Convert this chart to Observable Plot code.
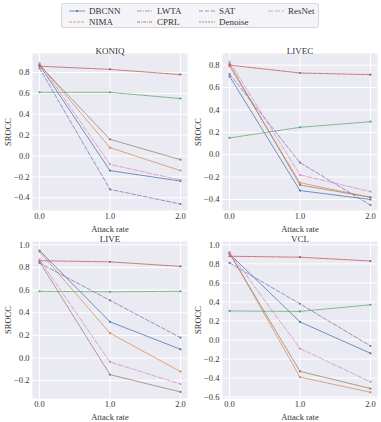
<!DOCTYPE html>
<html>
<head>
<meta charset="utf-8">
<script src="https://cdn.jsdelivr.net/npm/d3@7"></script>
<script src="https://cdn.jsdelivr.net/npm/@observablehq/plot@0.6"></script>
<style>
  html, body { margin: 0; padding: 0; background: #fff; }
  #root { position: relative; width: 381px; height: 422px; font-family: "Liberation Serif", "DejaVu Serif", serif; font-weight: normal; color: #333; }
  .panel { position: absolute; }
  .panel svg text { font-family: "Liberation Serif", "DejaVu Serif", serif; font-weight: normal; }
  #legend { position: absolute; left: 61px; top: 3px; width: 258px; height: 25px; border: 1px solid #d8d8d8; border-radius: 2px; background: #f4f4f8; box-sizing: border-box; }
  .lg { position: absolute; font-size: 9px; line-height: 10px; white-space: nowrap; font-weight: normal; }
  .lg svg { position: absolute; }
</style>
</head>
<body>
<div id="root"><div id="legend"></div></div>
<script>
// ---- data ----
const rates = [0, 1, 2];
const methods = ["DBCNN", "NIMA", "LWTA", "CPRL", "SAT", "Denoise", "ResNet"];
const colors = ["#4C72B0", "#DD8452", "#55A868", "#C44E52", "#8172B3", "#937860", "#DA8BC3"];
const dashes = ["none", "3,1", "5,1,1,1", "3,1,1,1", "4,2", "2,1", "5,2"];

// values per method (order of `methods`) at rates 0, 1, 2
const koniqValues = [
  [0.87, -0.14, -0.24],
  [0.88, 0.08, -0.14],
  [0.61, 0.61, 0.55],
  [0.86, 0.83, 0.78],
  [0.84, -0.32, -0.46],
  [0.87, 0.16, -0.035],
  [0.89, -0.08, -0.23]
];
const livecValues = [
  [0.70, -0.32, -0.40],
  [0.79, -0.25, -0.38],
  [0.15, 0.245, 0.295],
  [0.80, 0.73, 0.715],
  [0.72, -0.07, -0.45],
  [0.81, -0.27, -0.38],
  [0.83, -0.18, -0.33]
];
const liveValues = [
  [0.95, 0.32, 0.077],
  [0.94, 0.22, -0.12],
  [0.59, 0.585, 0.59],
  [0.86, 0.85, 0.81],
  [0.84, 0.51, 0.18],
  [0.85, -0.147, -0.30],
  [0.87, -0.035, -0.23]
];
const vclValues = [
  [0.905, 0.19, -0.14],
  [0.92, -0.39, -0.55],
  [0.305, 0.30, 0.37],
  [0.88, 0.87, 0.83],
  [0.81, 0.38, -0.063],
  [0.91, -0.33, -0.51],
  [0.92, -0.09, -0.44]
];

const xTicks = [0, 1, 2];
const koniqTicks = [-0.4, -0.2, 0, 0.2, 0.4, 0.6, 0.8];
const livecTicks = [-0.4, -0.2, 0, 0.2, 0.4, 0.6, 0.8];
const liveTicks = [-0.2, 0, 0.2, 0.4, 0.6, 0.8, 1.0];
const vclTicks = [-0.6, -0.4, -0.2, 0, 0.2, 0.4, 0.6, 0.8, 1.0];

const panels = [
  {title: "KONIQ", values: koniqValues, ticks: koniqTicks, domain: [-0.522, 0.982], left: 0, top: 38},
  {title: "LIVEC", values: livecValues, ticks: livecTicks, domain: [-0.498, 0.904], left: 190, top: 38},
  {title: "LIVE", values: liveValues, ticks: liveTicks, domain: [-0.358, 1.03], left: 0, top: 226},
  {title: "VCL", values: vclValues, ticks: vclTicks, domain: [-0.615, 1.035], left: 190, top: 226}
];

const root = document.getElementById("root");
const fmt = d3.format(".1f");
const FONT = "'Liberation Serif', 'DejaVu Serif', serif";

for (const p of panels) {
  const marks = [
    Plot.frame({fill: "#EAEAF2", stroke: "none"}),
    Plot.gridX(xTicks, {stroke: "#fff", strokeOpacity: 1, strokeWidth: 1}),
    Plot.gridY(p.ticks, {stroke: "#fff", strokeOpacity: 1, strokeWidth: 1}),
    Plot.axisX(xTicks, {tickSize: 0, tickPadding: 2, tickFormat: fmt, fontSize: 8.5, fill: "#333", label: "Attack rate", labelAnchor: "center", labelArrow: "none", labelOffset: 21}),
    Plot.axisY(p.ticks, {tickSize: 0, tickPadding: 3, tickFormat: fmt, fontSize: 8.5, fill: "#333", label: "SROCC", labelAnchor: "center", labelArrow: "none", labelOffset: 28})
  ];
  methods.forEach((m, i) => {
    const data = rates.map((r, j) => ({rate: r, value: p.values[i][j]}));
    marks.push(Plot.line(data, {x: "rate", y: "value", stroke: colors[i], strokeWidth: 0.9, strokeDasharray: dashes[i] === "none" ? undefined : dashes[i], strokeOpacity: 0.85}));
    marks.push(Plot.dot(data, {x: "rate", y: "value", fill: colors[i], r: 1.1, stroke: "none"}));
  });
  marks.push(Plot.text([p.title], {frameAnchor: "top", dy: -6, fontSize: 9, fill: "#333", fontWeight: "normal", fontFamily: FONT}));
  const svg = Plot.plot({
    width: 190,
    height: 195,
    marginTop: 15,
    marginBottom: 23,
    marginLeft: 32,
    marginRight: 3,
    style: {fontFamily: FONT, fontSize: "9px", color: "#333", background: "transparent", overflow: "visible"},
    x: {domain: [-0.1, 2.1]},
    y: {domain: p.domain},
    marks
  });
  const div = document.createElement("div");
  div.className = "panel";
  div.style.left = p.left + "px";
  div.style.top = p.top + "px";
  div.appendChild(svg);
  root.appendChild(div);
}

// ---- legend ----
const legend = document.getElementById("legend");
const colX = [6, 74, 136, 205];
const rowY = [2, 13];
const order = [["DBCNN", "NIMA"], ["LWTA", "CPRL"], ["SAT", "Denoise"], ["ResNet"]];
order.forEach((col, c) => {
  col.forEach((name, r) => {
    const i = methods.indexOf(name);
    const item = document.createElement("div");
    item.className = "lg";
    item.style.left = colX[c] + "px";
    item.style.top = rowY[r] + "px";
    item.innerHTML = `<svg width="18" height="10" style="left:0;top:0"><line x1="1" x2="17" y1="5" y2="5" stroke="${colors[i]}" stroke-width="0.9" stroke-opacity="0.85" ${dashes[i] === "none" ? "" : `stroke-dasharray="${dashes[i]}"`}/>${name === "DBCNN" ? `<circle cx="9" cy="5" r="1.1" fill="${colors[i]}"/>` : ""}</svg><span style="position:absolute;left:21px;top:0">${name}</span>`;
    legend.appendChild(item);
  });
});
</script>
</body>
</html>
